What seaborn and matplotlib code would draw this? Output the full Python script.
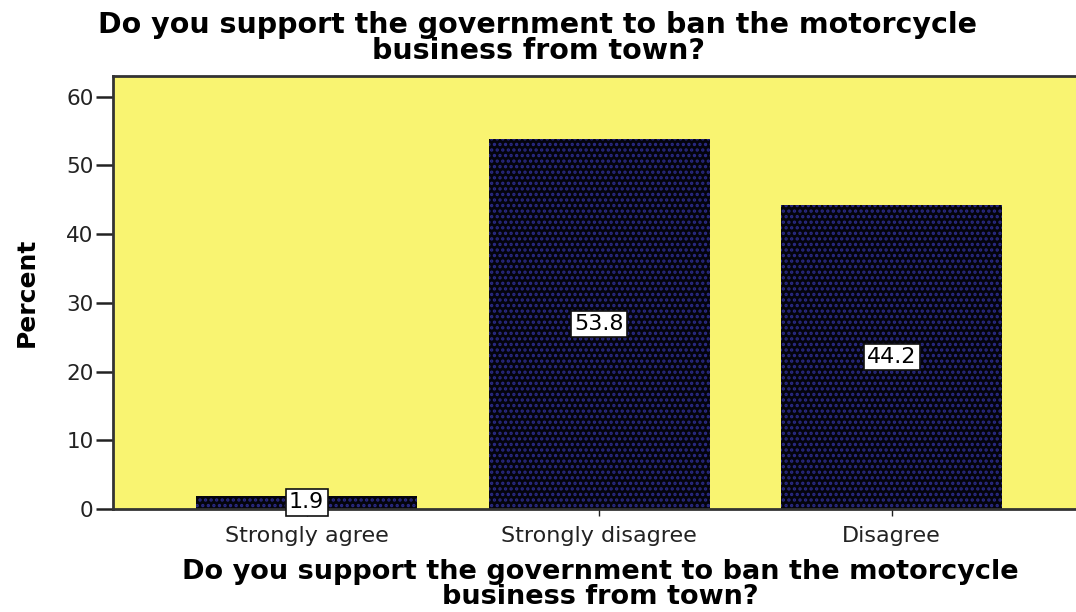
import matplotlib
matplotlib.use("Agg")
import matplotlib.pyplot as plt
import seaborn as sns
import pandas as pd

categories = ["Strongly agree", "Strongly disagree", "Disagree"]
percents = [1.9, 53.8, 44.2]
yticks = [0, 10, 20, 30, 40, 50, 60]
title_text = "Do you support the government to ban the motorcycle\nbusiness from town?"
ylabel_text = "Percent"

sns.set_theme(style="white")
plt.rcParams['font.family'] = ['DejaVu Sans']
plt.rcParams['hatch.linewidth'] = 1.6

W, H = 1076, 612
fig = plt.figure(figsize=(W / 100, H / 100), dpi=100)
fig.patch.set_facecolor("white")
ax = fig.add_axes([113 / W, 103 / H, 963 / W, 433 / H])
ax.set_facecolor("#F9F471")

df = pd.DataFrame({"cat": categories, "pct": percents})
sns.barplot(data=df, x="cat", y="pct", order=categories, color="#05050f",
            width=0.755, saturation=1, ax=ax)

for p in ax.patches:
    p.set_facecolor("#04040c")
    p.set_edgecolor("#2a2a85")
    p.set_hatch("...")
    p.set_linewidth(0)

for i, v in enumerate(percents):
    ax.text(i, v / 2, f"{v}", ha="center", va="center", fontsize=16,
            color="black",
            bbox=dict(boxstyle="square,pad=0.15", facecolor="white",
                      edgecolor="#111111", linewidth=1.2),
            zorder=5, clip_on=False)

ax.set_xlim(-0.662, 2.63)
ax.set_ylim(0, 63)
ax.set_yticks(yticks)
ax.set_yticklabels([str(t) for t in yticks], fontsize=15.5, color="#222222")
ax.tick_params(axis="y", direction="out", length=12, width=1.8, color="#222222",
               left=True, pad=2)
ax.tick_params(axis="x", direction="out", length=5, width=1, color="#222222",
               bottom=True, pad=7)
ax.set_xticks(range(len(categories)))
ax.set_xticklabels(categories, fontsize=16, color="#222222")

for side in ["left", "top", "bottom"]:
    ax.spines[side].set_visible(True)
    ax.spines[side].set_color("#333333")
    ax.spines[side].set_linewidth(2)
ax.spines["right"].set_visible(False)

ax.set_ylabel(ylabel_text, fontsize=18, fontweight="bold", color="black")
ax.yaxis.set_label_coords(-0.077, 0.5)
ax.set_xlabel(title_text, fontsize=19.5, fontweight="bold", linespacing=0.93,
              color="black")
ax.xaxis.set_label_coords((600 - 113) / 963, -0.116)
fig.text(0.5, 1 - 38 / H, title_text, ha="center", va="center", fontsize=20.5,
         fontweight="bold", linespacing=0.93, color="black")

fig.savefig("out.png", dpi=100)
